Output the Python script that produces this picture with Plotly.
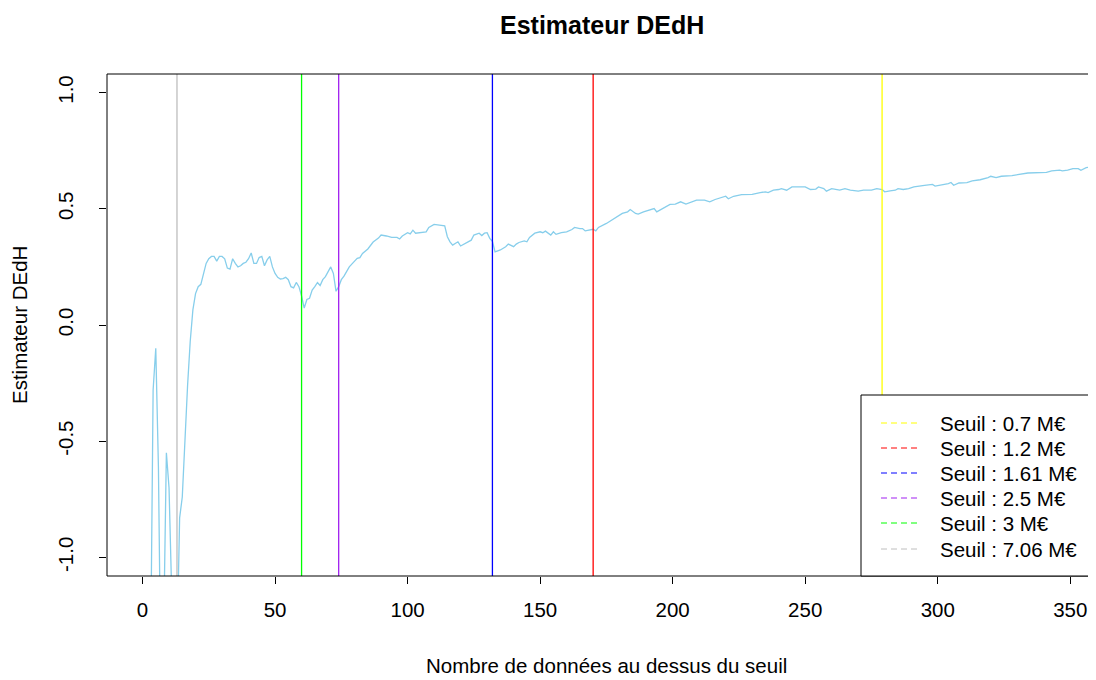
import plotly.graph_objects as go

# ---- data ----
n_exc = [1, 2, 3, 4, 5, 6, 7, 8, 9, 10, 11, 12, 13, 14, 15, 16, 17, 18, 19, 20,
         21, 22, 23, 24, 25, 26, 27, 28, 29, 30, 31, 32, 33, 34, 35, 36, 37, 38, 39, 40,
         41, 42, 43, 44, 45, 46, 47, 48, 49, 50, 51, 52, 53, 54, 55, 56, 57, 58, 59, 60,
         61, 62, 63, 64, 65, 66, 67, 68, 69, 70, 71, 72, 73, 74, 75, 76, 77, 78, 80, 81,
         82, 83, 85, 86, 87, 89, 90, 92, 94, 96, 97, 98, 100, 101, 102, 103, 105, 107, 108, 110,
         112, 114, 115, 116, 117, 118, 119, 120, 122, 124, 125, 127, 128, 129, 130, 131, 132, 133, 135, 137,
         138, 140, 141, 142, 144, 145, 146, 148, 150, 151, 152, 154, 155, 156, 158, 160, 162, 163, 165, 166,
         167, 169, 170, 171, 172, 175, 177, 179, 181, 183, 184, 186, 187, 189, 191, 193, 194, 196, 199, 201,
         203, 205, 207, 209, 212, 214, 216, 218, 220, 221, 223, 226, 230, 233, 235, 236, 238, 240, 241, 243,
         245, 250, 252, 254, 255, 257, 258, 260, 262, 263, 265, 267, 270, 272, 275, 277, 279, 280, 282, 284,
         285, 287, 289, 291, 295, 298, 299, 302, 304, 305, 306, 308, 311, 313, 316, 319, 320, 322, 324, 328,
         331, 334, 341, 343, 346, 347, 349, 351, 353, 354, 356, 359, 361]
dedh = [-2.0, -1.8, -1.5, -0.28, -0.10, -0.61, -1.6, -1.3, -0.55, -0.70, -1.1, -1.6, -1.4, -0.83, -0.74, -0.48, -0.26, -0.07, 0.065, 0.135,
        0.165, 0.175, 0.215, 0.265, 0.285, 0.295, 0.295, 0.275, 0.295, 0.295, 0.285, 0.245, 0.24, 0.285, 0.265, 0.25, 0.255, 0.265, 0.27, 0.285,
        0.31, 0.265, 0.265, 0.29, 0.295, 0.255, 0.28, 0.295, 0.25, 0.222, 0.205, 0.198, 0.2, 0.205, 0.195, 0.165, 0.16, 0.183, 0.165, 0.125,
        0.073, 0.11, 0.115, 0.15, 0.165, 0.183, 0.17, 0.195, 0.208, 0.23, 0.25, 0.222, 0.145, 0.165, 0.195, 0.21, 0.23, 0.25, 0.275, 0.287,
        0.29, 0.308, 0.327, 0.344, 0.357, 0.374, 0.387, 0.383, 0.377, 0.377, 0.37, 0.383, 0.397, 0.392, 0.408, 0.395, 0.397, 0.401, 0.42, 0.433,
        0.43, 0.427, 0.38, 0.358, 0.344, 0.351, 0.358, 0.34, 0.351, 0.365, 0.387, 0.395, 0.385, 0.395, 0.397, 0.373, 0.36, 0.315, 0.323, 0.337,
        0.348, 0.337, 0.348, 0.355, 0.362, 0.358, 0.377, 0.395, 0.401, 0.397, 0.404, 0.387, 0.401, 0.39, 0.397, 0.401, 0.411, 0.42, 0.415, 0.415,
        0.405, 0.411, 0.412, 0.405, 0.42, 0.437, 0.451, 0.463, 0.48, 0.487, 0.497, 0.48, 0.477, 0.487, 0.494, 0.501, 0.487, 0.501, 0.519, 0.52,
        0.53, 0.52, 0.53, 0.537, 0.537, 0.53, 0.54, 0.547, 0.554, 0.543, 0.554, 0.561, 0.562, 0.57, 0.573, 0.57, 0.58, 0.583, 0.587, 0.58,
        0.594, 0.594, 0.583, 0.585, 0.594, 0.587, 0.576, 0.587, 0.583, 0.58, 0.587, 0.58, 0.576, 0.58, 0.58, 0.587, 0.583, 0.573, 0.577, 0.58,
        0.587, 0.583, 0.587, 0.594, 0.601, 0.605, 0.598, 0.603, 0.608, 0.613, 0.601, 0.611, 0.613, 0.62, 0.625, 0.634, 0.64, 0.634, 0.64, 0.643,
        0.648, 0.654, 0.657, 0.663, 0.666, 0.663, 0.666, 0.673, 0.673, 0.666, 0.677, 0.68, 0.683]

seuils = ["0.7", "1.2", "1.61", "2.5", "3", "7.06"]          # M€
seuil_n = [279, 170, 132, 74, 60, 13]                        # nb of exceedances
seuil_colors = ["#FFFF00", "#FF0000", "#0000FF", "#A020F0", "#00FF00", "#BEBEBE"]

x_ticks = [0, 50, 100, 150, 200, 250, 300, 350]
y_ticks = [-1.0, -0.5, 0.0, 0.5, 1.0]
y_ticktext = ["-1.0", "-0.5", "0.0", "0.5", "1.0"]

FONT = "Liberation Sans, Arial, sans-serif"
FS = 20.5
OFF = 8                      # page body margin in the browser
W, H = 1096 - OFF, 680 - OFF
PL, PT, PB_PAGE = 107, 74, 576     # plot edges in page pixels
L, T = PL - OFF, PT - OFF
B = H - (PB_PAGE - OFF)
R = 0
PW, PH = W - L - R, H - T - B


def px(xp):          # page x pixel -> paper
    return (xp - PL) / PW


def py(yp):          # page y pixel -> paper
    return (PB_PAGE - yp) / PH


fig = go.Figure()
fig.add_trace(go.Scatter(x=n_exc, y=dedh, mode="lines",
                         line=dict(color="#87CEEB", width=1.3),
                         showlegend=False, hoverinfo="skip"))

shapes = []
for n, c in zip(seuil_n, seuil_colors):
    shapes.append(dict(type="line", xref="x", yref="paper", x0=n, x1=n, y0=0, y1=1,
                       line=dict(color=c, width=1.3), layer="above"))

# plot frame (right side falls outside the picture)
for (x0, y0, x1, y1) in [(0, 0, 0, 1), (0, 1, 1.05, 1), (0, 0, 1.05, 0)]:
    shapes.append(dict(type="line", xref="paper", yref="paper", x0=x0, y0=y0, x1=x1, y1=y1,
                       line=dict(color="black", width=1), layer="above"))

# legend box
shapes.append(dict(type="rect", xref="paper", yref="paper", x0=px(861), x1=1.1,
                   y0=0, y1=py(395), fillcolor="white",
                   line=dict(color="black", width=1), layer="above"))

annotations = []
row_y = [423, 448, 473, 498, 523, 549]
for s, c, ry in zip(seuils, seuil_colors, row_y):
    shapes.append(dict(type="line", xref="paper", yref="paper", x0=px(881), x1=px(920),
                       y0=py(ry), y1=py(ry), line=dict(color=c, width=1, dash="6px,4px"),
                       layer="above"))
    annotations.append(dict(xref="paper", yref="paper", x=px(938), y=py(ry),
                            xanchor="left", yanchor="middle", showarrow=False,
                            text=f"Seuil : {s} M€",
                            font=dict(family=FONT, size=FS, color="black")))

annotations.append(dict(xref="paper", yref="paper", x=px(606), y=py(665),
                        xanchor="center", yanchor="middle", showarrow=False,
                        text="Nombre de données au dessus du seuil",
                        font=dict(family=FONT, size=FS, color="black")))
annotations.append(dict(xref="paper", yref="paper", x=px(19), y=0.5,
                        xanchor="center", yanchor="middle", showarrow=False,
                        textangle=-90, text="Estimateur DEdH",
                        font=dict(family=FONT, size=FS, color="black")))
annotations.append(dict(xref="paper", yref="paper", x=0.5, y=py(25),
                        xanchor="center", yanchor="middle", showarrow=False,
                        text="<b>Estimateur DEdH</b>",
                        font=dict(family=FONT, size=25, color="black")))

fig.update_layout(
    width=W, height=H,
    margin=dict(l=L, r=R, t=T, b=B),
    paper_bgcolor="white", plot_bgcolor="white",
    xaxis=dict(range=[-13.4, 359.7], showgrid=False, zeroline=False, showline=False,
               ticks="outside", ticklen=7, tickcolor="black", tickwidth=1,
               tickvals=x_ticks, tickfont=dict(family=FONT, size=FS, color="black"),
               ticklabelstandoff=8),
    yaxis=dict(range=[-1.08, 1.08], showgrid=False, zeroline=False, showline=False,
               ticks="outside", ticklen=7, tickcolor="black", tickwidth=1,
               tickvals=y_ticks, ticktext=y_ticktext, tickangle=-90,
               tickfont=dict(family=FONT, size=FS, color="black"),
               ticklabelstandoff=18),
    shapes=shapes, annotations=annotations,
    showlegend=False,
)

fig.write_html("out.html")
